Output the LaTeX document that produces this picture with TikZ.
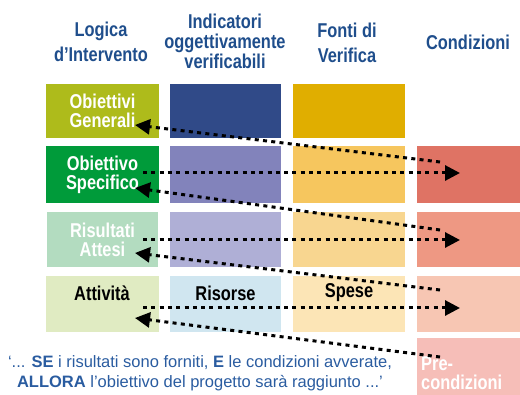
\documentclass[tikz,border=0pt]{standalone}
\usepackage{fontspec}
\setmainfont[FakeStretch=0.82]{Liberation Sans}
\newfontfamily\quotefont{Liberation Sans}
\usetikzlibrary{arrows.meta}

\definecolor{headblue}{HTML}{1F4E8C}
\definecolor{quoteblue}{HTML}{2A5CA0}
\definecolor{logica1}{HTML}{AEBB1B}
\definecolor{logica2}{HTML}{009B3A}
\definecolor{logica3}{HTML}{B3DCC0}
\definecolor{logica4}{HTML}{E0EBC2}
\definecolor{indic1}{HTML}{304A88}
\definecolor{indic2}{HTML}{8283BB}
\definecolor{indic3}{HTML}{AFAFD6}
\definecolor{indic4}{HTML}{D0E6F0}
\definecolor{fonti1}{HTML}{E0AE00}
\definecolor{fonti2}{HTML}{F6C65E}
\definecolor{fonti3}{HTML}{F8D690}
\definecolor{fonti4}{HTML}{FCE5B6}
\definecolor{cond2}{HTML}{DF7364}
\definecolor{cond3}{HTML}{EE9883}
\definecolor{cond4}{HTML}{F7C6B3}
\definecolor{cond5}{HTML}{F6BEB8}

\begin{document}
\begin{tikzpicture}[x=1pt,y=-1pt]
\tikzstyle{every node}=[font=\bfseries\fontsize{20}{19}\selectfont,inner sep=0pt];
\tikzstyle{cell}=[minimum width=113pt,minimum height=55pt,text=white,align=center];
\tikzstyle{head}=[text=headblue,align=center,font=\bfseries\fontsize{20}{25}\selectfont];
\tikzstyle{link}=[line width=3pt,dash pattern=on 4pt off 4.3pt,-{Triangle[length=15pt,width=15pt]}];
\clip (0,0) rectangle (520,395);

% intestazioni
\node[head] (hlog) at (101,42) {Logica\\d’Intervento};
\node[head,font=\bfseries\fontsize{20}{20}\selectfont] (hind) at (225,41) {Indicatori\\oggettivamente\\verificabili};
\node[head] (hfon) at (347,43) {Fonti di\\Verifica};
\node[head] (hcon) at (468,42) {Condizioni};

% logica d'intervento
\node[cell,fill=logica1,minimum height=54pt] (og) at (102.5,111) {Obiettivi\\Generali};
\node[cell,fill=logica2,minimum height=57pt] (os) at (102.5,174.5) {Obiettivo\\Specifico};
\node[cell,fill=logica3,minimum width=111pt] (ra) at (102.5,239.5) {Risultati\\Attesi};
\node[cell,fill=logica4,minimum height=56pt] (at) at (102.5,304) {};
% indicatori
\node[cell,fill=indic1,minimum width=111pt,minimum height=54pt] (i1) at (225.5,111) {};
\node[cell,fill=indic2,minimum width=111pt,minimum height=57pt] (i2) at (225.5,174.5) {};
\node[cell,fill=indic3,minimum width=111pt] (i3) at (225.5,239.5) {};
\node[cell,fill=indic4,minimum width=111pt,minimum height=56pt] (i4) at (225.5,304) {};
% fonti
\node[cell,fill=fonti1,minimum width=112pt,minimum height=54pt] (f1) at (349,111) {};
\node[cell,fill=fonti2,minimum width=112pt,minimum height=57pt] (f2) at (349,174.5) {};
\node[cell,fill=fonti3,minimum width=112pt] (f3) at (349,239.5) {};
\node[cell,fill=fonti4,minimum width=112pt,minimum height=56pt] (f4) at (349,304) {};
% condizioni
\node[cell,fill=cond2,minimum height=57pt] (c2) at (473.5,174.5) {};
\node[cell,fill=cond3] (c3) at (473.5,239.5) {};
\node[cell,fill=cond4,minimum height=56pt] (c4) at (473.5,304) {};
\node[cell,fill=cond5,minimum height=58pt] (c5) at (473.5,367) {};

\node (tat) at (102,293) {Attività};
\node (tris) at (225.5,293) {Risorse};
\node (tspe) at (349,293) {Spese};
\node[text=white,align=left,anchor=west,font=\bfseries\fontsize{20}{19}\selectfont] (tpre) at (421,373.5) {Pre-\\condizioni};

\node[text=quoteblue,align=center,font=\quotefont\fontsize{16.5}{20}\selectfont] (quote) at (200,373)
  {‘... \textbf{SE} i risultati sono forniti, \textbf{E} le condizioni avverate,\\
   \textbf{ALLORA} l’obiettivo del progetto sarà raggiunto ...’};

% punti di partenza e di arrivo delle frecce
\coordinate (p1) at (440,162);  \coordinate (q1) at (135,125);
\coordinate (p2) at (143,173);  \coordinate (q2) at (460,173);
\coordinate (p3) at (440,230);  \coordinate (q3) at (135,188);
\coordinate (p4) at (143,240);  \coordinate (q4) at (460,240);
\coordinate (p5) at (440,290);  \coordinate (q5) at (135,253);
\coordinate (p6) at (143,308);  \coordinate (q6) at (460,308);
\coordinate (p7) at (440,357);  \coordinate (q7) at (135,318);

\draw[link] (p1) -- (q1);
\draw[link] (p2) -- (q2);
\draw[link] (p3) -- (q3);
\draw[link] (p4) -- (q4);
\draw[link] (p5) -- (q5);
\draw[link] (p6) -- (q6);
\draw[link] (p7) -- (q7);
\end{tikzpicture}
\end{document}
